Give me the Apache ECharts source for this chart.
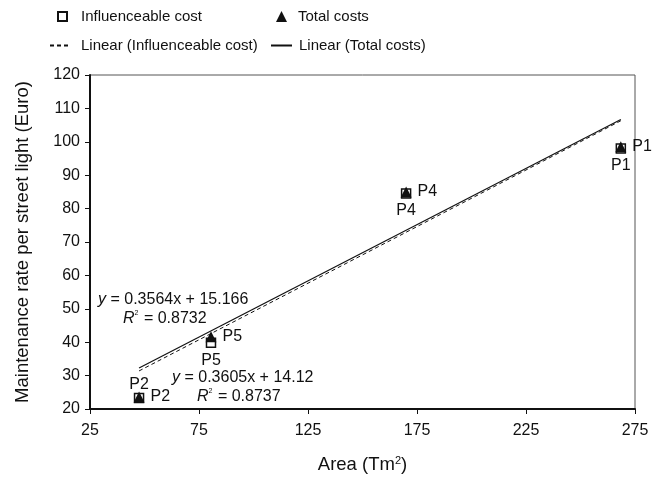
<!DOCTYPE html>
<html lang="en">

<head>
  <meta charset="UTF-8">
  <title>Maintenance rate per street light</title>
  <style>
    html, body { margin: 0; padding: 0; background: #fff; }
    #chart { width: 652px; height: 477px; }
  </style>
</head>

<body>
  <div id="chart"></div>
</body>
<script src="https://cdn.jsdelivr.net/npm/echarts@6/dist/echarts.min.js"></script>
<script>
  // 数据
  var pointNames = ['P2', 'P5', 'P4', 'P1'];
  var areas = [47.5, 80.5, 170, 268.5];
  var influenceable = [23.3, 39.8, 84.5, 98];
  var totals = [23.6, 41.6, 85, 98.5];

  // trendline end points
  var trendX = [47.5, 268.5];
  var trendInfluenceable = [31.4, 106.3];
  var trendTotal = [32.3, 106.7];

  var xTicks = { min: 25, max: 275, interval: 50 };
  var yTicks = { min: 20, max: 120, interval: 10 };

  var FONT = 'Liberation Sans, Arial, sans-serif';
  var INK = '#111';

  function pairs(xs, ys) {
    var out = [];
    for (var i = 0; i < xs.length; i++) {
      out.push({ name: pointNames[i], value: [xs[i], ys[i]] });
    }
    return out;
  }

  var squareData = pairs(areas, influenceable);
  // P2 square label sits above the point
  squareData[0].label = { position: 'top', distance: 0 };

  var eqRich = {
    i: { fontStyle: 'italic', fontSize: 16, fontFamily: FONT, fill: INK, color: INK },
    n: { fontSize: 16, fontFamily: FONT, fill: INK, color: INK },
    sup: { fontSize: 7, fontFamily: FONT, fill: INK, color: INK, padding: [0, 1, 11, 0] }
  };

  function eqText(left, top, str) {
    return {
      type: 'text', left: left, top: top,
      style: { text: str, rich: eqRich, fill: INK }
    };
  }

  var chart = echarts.init(document.getElementById('chart'));

  var option = {
    animation: false,
    textStyle: { fontFamily: FONT },
    legend: [
      {
        data: ['Influenceable cost'], left: 57, top: 9, padding: 0,
        itemWidth: 9, itemHeight: 9,
        textStyle: { fontSize: 15, fontFamily: FONT, color: INK, padding: [0, 0, 0, 9] }
      },
      {
        data: ['Total costs'], left: 276, top: 9, padding: 0,
        itemWidth: 11, itemHeight: 11,
        textStyle: { fontSize: 15, fontFamily: FONT, color: INK, padding: [0, 0, 0, 6] }
      },
      {
        data: ['Linear (Influenceable cost)'], left: 49, top: 38, padding: 0,
        itemWidth: 21, itemHeight: 12, itemStyle: { opacity: 0 },
        textStyle: { fontSize: 15, fontFamily: FONT, color: INK, padding: [0, 0, 0, 5] }
      },
      {
        data: ['Linear (Total costs)'], left: 270, top: 38, padding: 0,
        itemWidth: 21, itemHeight: 12, itemStyle: { opacity: 0 },
        textStyle: { fontSize: 15, fontFamily: FONT, color: INK, padding: [0, 0, 0, 2] }
      }
    ],
    grid: {
      left: 90, right: 17, top: 75, bottom: 68,
      outerBoundsMode: 'none',
      containLabel: false,
      show: true, borderColor: '#555', borderWidth: 1, backgroundColor: 'transparent'
    },
    xAxis: {
      type: 'value',
      min: xTicks.min, max: xTicks.max, interval: xTicks.interval,
      name: 'Area (Tm{sup|2})',
      nameLocation: 'middle', nameGap: 46,
      nameTextStyle: {
        fontSize: 18.5, color: INK,
        rich: { sup: { fontSize: 11, color: INK, padding: [0, 0, 9, 0] } }
      },
      axisLine: { show: true, lineStyle: { color: INK, width: 2 } },
      axisTick: { show: true, length: 5, lineStyle: { color: INK, width: 1 } },
      axisLabel: { fontSize: 16, color: INK, margin: 14 },
      splitLine: { show: false }
    },
    yAxis: {
      type: 'value',
      min: yTicks.min, max: yTicks.max, interval: yTicks.interval,
      name: 'Maintenance rate per street light (Euro)',
      nameLocation: 'middle', nameGap: 58,
      nameTextStyle: { fontSize: 18.5, color: INK },
      axisLine: { show: true, lineStyle: { color: INK, width: 2 } },
      axisTick: { show: true, length: 5, lineStyle: { color: INK, width: 1 } },
      axisLabel: { fontSize: 16, color: INK, margin: 10 },
      splitLine: { show: false }
    },
    series: [
      {
        name: 'Linear (Influenceable cost)',
        type: 'line',
        data: pairs(trendX, trendInfluenceable).map(function (d) { return d.value; }),
        symbol: 'none',
        lineStyle: { color: INK, width: 1, type: [4, 3] },
        itemStyle: { color: INK },
        z: 2
      },
      {
        name: 'Linear (Total costs)',
        type: 'line',
        data: pairs(trendX, trendTotal).map(function (d) { return d.value; }),
        symbol: 'none',
        lineStyle: { color: INK, width: 1.2 },
        itemStyle: { color: INK },
        z: 2
      },
      {
        name: 'Influenceable cost',
        type: 'scatter',
        data: squareData,
        symbol: 'rect',
        symbolSize: 9,
        itemStyle: { color: '#fff', borderColor: INK, borderWidth: 1.5, opacity: 1 },
        label: {
          show: true, position: 'bottom', distance: 4, opacity: 1,
          formatter: '{b}', fontSize: 16, color: INK, textBorderWidth: 0
        },
        z: 3
      },
      {
        name: 'Total costs',
        type: 'scatter',
        data: pairs(areas, totals),
        symbol: 'triangle',
        symbolSize: 11,
        itemStyle: { color: INK, opacity: 1 },
        label: {
          show: true, position: 'right', distance: 6, opacity: 1,
          formatter: '{b}', fontSize: 16, color: INK, textBorderWidth: 0
        },
        z: 4
      }
    ],
    graphic: [
      eqText(98, 292, '{i|y}{n| = 0.3564x + 15.166}'),
      eqText(123, 310, '{i|R}{sup|2}{n| = 0.8732}'),
      eqText(172, 370, '{i|y}{n| = 0.3605x + 14.12}'),
      eqText(197, 388, '{i|R}{sup|2}{n| = 0.8737}')
    ]
  };

  chart.setOption(option);
</script>

</html>
